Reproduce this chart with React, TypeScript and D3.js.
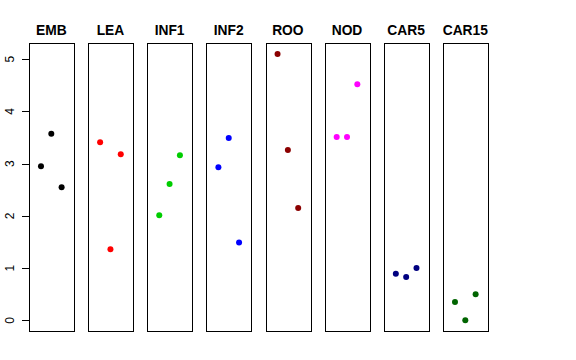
import React from "react";
import * as d3 from "d3";

const categories = ["EMB", "LEA", "INF1", "INF2", "ROO", "NOD", "CAR5", "CAR15"];
const colors = ["#000000", "#FF0000", "#00CD00", "#0000FF", "#8B0000", "#FF00FF", "#000080", "#006400"];
const rep1 = [2.95, 3.41, 2.01, 2.93, 5.1, 3.51, 0.89, 0.35];
const rep2 = [3.57, 1.36, 2.61, 3.49, 3.26, 3.51, 0.83, 0.0];
const rep3 = [2.55, 3.18, 3.16, 1.49, 2.15, 4.52, 1.0, 0.5];
const yTicks = [0, 1, 2, 3, 4, 5];

export default function App() {
  const W = 576, H = 360;
  const top = 43.3, bottom = 331;
  const band = d3.scaleBand<string>().domain(categories).range([29, 487.6]).paddingInner(0.246).paddingOuter(0);
  const y = d3.scaleLinear().domain([-0.204, 5.304]).range([bottom, top]);
  const x = d3.scaleLinear().domain([-0.16, 4.16]).range([0, band.bandwidth()]);
  const reps = [rep1, rep2, rep3];
  const axisX = band(categories[0])!;
  return (
    <svg width={W} height={H} style={{ position: "absolute", left: 0, top: 0, background: "#fff" }} fontFamily="'Liberation Sans', Arial, sans-serif">
      {categories.map((c, i) => {
        const bx = band(c)!;
        return (
          <g key={c}>
            <text x={bx + band.bandwidth() / 2} y={35} textAnchor="middle" fontWeight="bold" fontSize={13.8} fill="#000">{c}</text>
            <rect x={Math.round(bx) + 0.5} y={Math.round(top) + 0.5} width={Math.round(band.bandwidth())} height={Math.round(bottom - top)} fill="none" stroke="#000" strokeWidth={1} />
            {reps.map((r, j) => (
              <circle key={j} cx={bx + x(j + 1)} cy={y(r[i])} r={3} fill={colors[i]} />
            ))}
          </g>
        );
      })}
      <g>
        <line x1={Math.round(axisX) + 0.5} x2={Math.round(axisX) + 0.5} y1={y(0)} y2={y(5)} stroke="#000" />
        {yTicks.map(t => (
          <g key={t}>
            <line x1={Math.round(axisX) - 7} x2={Math.round(axisX)} y1={Math.round(y(t)) + 0.5} y2={Math.round(y(t)) + 0.5} stroke="#000" />
            <text transform={`translate(14,${y(t)}) rotate(-90)`} textAnchor="middle" fontSize={12} fill="#000">{t}</text>
          </g>
        ))}
      </g>
    </svg>
  );
}
